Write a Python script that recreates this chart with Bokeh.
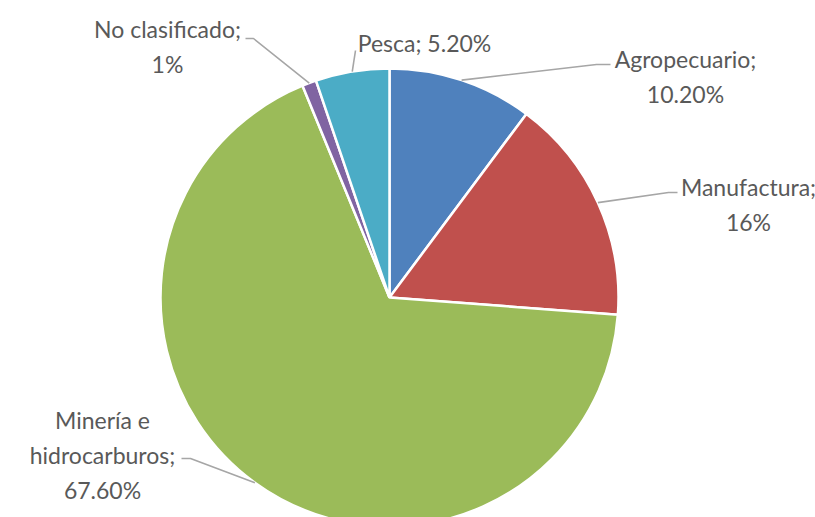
import numpy as np
from bokeh.plotting import figure
from bokeh.models import Range1d, ColumnDataSource
from bokeh.core.properties import value
from bokeh.embed import file_html
from bokeh.resources import INLINE

# ---- data ----
categories = ["Agropecuario", "Manufactura", "Minería e hidrocarburos", "No clasificado", "Pesca"]
shares = [10.2, 16.0, 67.6, 1.0, 5.2]
value_labels = ["10.20%", "16%", "67.60%", "1%", "5.20%"]
label_texts = ["Agropecuario;\n10.20%", "Manufactura;\n16%", "Minería e\nhidrocarburos;\n67.60%",
               "No clasificado;\n1%", "Pesca; 5.20%"]
colors = ["#4F81BD", "#C0504D", "#9BBB59", "#8064A2", "#4BACC6"]

# ---- layout (screen-like coordinates: x right, y = 517 - screen_y) ----
W, H = 815, 517
H_SCREEN = 517
cx, cy_s, R = 389, 297, 229
cy = H_SCREEN - cy_s

# label anchor positions (screen coords) and leader line elbow points
label_pos = [(685, 76), (748, 204), (102, 454), (167, 46), (424, 42)]
elbows = [[(610, 64), (596, 64)], [(677, 192), (668, 192)], [(181, 458), (190, 458)],
          [(245, 38), (253, 38)], [(355, 50), (355, 50)]]

p = figure(width=W, height=H, output_backend="svg", toolbar_location=None,
           x_range=Range1d(0, W), y_range=Range1d(H_SCREEN - H, H_SCREEN),
           min_border=0, outline_line_color=None)
p.axis.visible = False
p.grid.visible = False
p.background_fill_color = "white"
p.border_fill_color = "white"

frac = np.array(shares) / sum(shares)
cum = np.concatenate([[0], np.cumsum(frac)])
start_ang = np.pi / 2 - cum[1:] * 2 * np.pi
end_ang = np.pi / 2 - cum[:-1] * 2 * np.pi
mid_ang = (start_ang + end_ang) / 2

src = ColumnDataSource(dict(start=start_ang, end=end_ang, color=colors, cat=categories))
p.wedge(x=cx, y=cy, radius=R, start_angle="start", end_angle="end", fill_color="color",
        line_color="white", line_width=2.5, source=src)

# leader lines
for i in range(len(categories)):
    ex = cx + R * np.cos(mid_ang[i])
    ey = cy + R * np.sin(mid_ang[i])
    (x1, y1), (x2, y2) = elbows[i]
    xs = [x1, x2, ex]
    ys = [H_SCREEN - y1, H_SCREEN - y2, ey]
    p.line(xs, ys, line_color="#A6A6A6", line_width=1.6)

# labels
lx = [lp[0] for lp in label_pos]
ly = [H_SCREEN - lp[1] for lp in label_pos]
p.text(x=lx, y=ly, text=label_texts, text_align="center", text_baseline="middle",
       text_font=value("Lato"), text_font_size="23px", text_color="#595959",
       text_line_height=1.25)

open("out.html", "w").write(file_html(p, INLINE))
